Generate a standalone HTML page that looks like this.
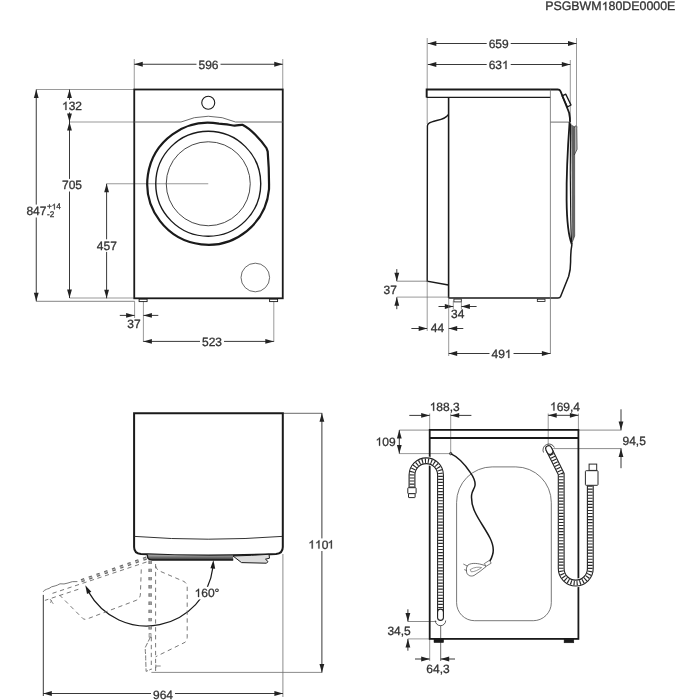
<!DOCTYPE html>
<html><head><meta charset="utf-8"><style>
html,body{margin:0;padding:0;background:#fff;width:700px;height:700px;overflow:hidden}
svg{display:block;font-family:"Liberation Sans",sans-serif;will-change:transform;text-rendering:geometricPrecision}
</style></head><body>
<svg width="700" height="700" viewBox="0 0 700 700">
<text x="545.20" y="10.3" font-size="12.4" fill="#333333" stroke="#333333" stroke-width="0.3" xml:space="preserve">PSGBWM 80DE0000E</text>
<path d="M763,0 L583,0 L583,1100 Q518,1040 412,980 Q306,920 222,890 L222,1060 Q373,1130 486,1230 Q599,1330 646,1409 L763,1409 Z" transform="translate(601.691,10.3) scale(0.006055,-0.006055)" fill="#333333" stroke="#333333" stroke-width="49.5"/>
<line x1="134.25" y1="59" x2="134.25" y2="89.5" stroke="#6e6e6e" stroke-width="0.7" />
<line x1="282.75" y1="59" x2="282.75" y2="89.5" stroke="#6e6e6e" stroke-width="0.7" />
<line x1="36.25" y1="89.5" x2="134.25" y2="89.5" stroke="#6e6e6e" stroke-width="0.7" />
<line x1="36.25" y1="301.3" x2="134.65" y2="301.3" stroke="#666" stroke-width="0.8" />
<line x1="69.5" y1="122" x2="134.25" y2="122" stroke="#6e6e6e" stroke-width="0.7" />
<line x1="69.5" y1="298" x2="134.25" y2="298" stroke="#6e6e6e" stroke-width="0.7" />
<line x1="106.6" y1="183.75" x2="208.25" y2="183.75" stroke="#6e6e6e" stroke-width="0.7" />
<line x1="134.25" y1="64.25" x2="282.75" y2="64.25" stroke="#222222" stroke-width="0.9" />
<path d="M134.25,64.25 L142.75,61.85 L142.75,66.65 Z" fill="#222222" stroke="none"/>
<path d="M282.75,64.25 L274.25,66.65 L274.25,61.85 Z" fill="#222222" stroke="none"/>
<rect x="196.49" y="58.30" width="24.02" height="12.60" fill="#fff"/>
<text x="198.49" y="68.5" font-size="12" fill="#333333" stroke="#333333" stroke-width="0.3">596</text>
<line x1="36.25" y1="89.5" x2="36.25" y2="301.3" stroke="#222222" stroke-width="0.9" />
<path d="M36.25,89.50 L38.65,98.00 L33.85,98.00 Z" fill="#222222" stroke="none"/>
<path d="M36.25,301.30 L33.85,292.80 L38.65,292.80 Z" fill="#222222" stroke="none"/>
<rect x="24" y="204.6" width="38" height="12.9" fill="#fff"/>
<text x="26.40" y="215.1" font-size="12" fill="#333333" stroke="#333333" stroke-width="0.3">847</text>
<text x="46.90" y="209.4" font-size="8.2" fill="#333333" stroke="#333333" stroke-width="0.3" xml:space="preserve">+ 4</text>
<path d="M763,0 L583,0 L583,1100 Q518,1040 412,980 Q306,920 222,890 L222,1060 Q373,1130 486,1230 Q599,1330 646,1409 L763,1409 Z" transform="translate(51.689,209.4) scale(0.004004,-0.004004)" fill="#333333" stroke="#333333" stroke-width="74.9"/>
<text x="47.00" y="217.0" font-size="8.2" fill="#333333" stroke="#333333" stroke-width="0.3">-2</text>
<line x1="69.5" y1="89.5" x2="69.5" y2="122" stroke="#222222" stroke-width="0.9" />
<path d="M69.50,89.50 L71.90,98.00 L67.10,98.00 Z" fill="#222222" stroke="none"/>
<path d="M69.50,122.00 L67.10,113.50 L71.90,113.50 Z" fill="#222222" stroke="none"/>
<rect x="59.99" y="99.80" width="24.02" height="12.60" fill="#fff"/>
<text x="61.99" y="110.0" font-size="12" fill="#333333" stroke="#333333" stroke-width="0.3" xml:space="preserve"> 32</text>
<path d="M763,0 L583,0 L583,1100 Q518,1040 412,980 Q306,920 222,890 L222,1060 Q373,1130 486,1230 Q599,1330 646,1409 L763,1409 Z" transform="translate(61.989,110.0) scale(0.005859,-0.005859)" fill="#333333" stroke="#333333" stroke-width="51.2"/>
<line x1="69.5" y1="122" x2="69.5" y2="298" stroke="#222222" stroke-width="0.9" />
<path d="M69.50,122.00 L71.90,130.50 L67.10,130.50 Z" fill="#222222" stroke="none"/>
<path d="M69.50,298.00 L67.10,289.50 L71.90,289.50 Z" fill="#222222" stroke="none"/>
<rect x="59.99" y="178.90" width="24.02" height="12.60" fill="#fff"/>
<text x="61.99" y="189.1" font-size="12" fill="#333333" stroke="#333333" stroke-width="0.3">705</text>
<line x1="106.6" y1="183.75" x2="106.6" y2="298.3" stroke="#222222" stroke-width="0.9" />
<path d="M106.60,183.75 L109.00,192.25 L104.20,192.25 Z" fill="#222222" stroke="none"/>
<path d="M106.60,298.30 L104.20,289.80 L109.00,289.80 Z" fill="#222222" stroke="none"/>
<rect x="94.79" y="239.30" width="24.02" height="12.60" fill="#fff"/>
<text x="96.79" y="249.5" font-size="12" fill="#333333" stroke="#333333" stroke-width="0.3">457</text>
<line x1="134.6" y1="301.3" x2="134.6" y2="318" stroke="#6e6e6e" stroke-width="0.7" />
<line x1="143.4" y1="301" x2="143.4" y2="342" stroke="#6e6e6e" stroke-width="0.7" />
<line x1="119.8" y1="315.4" x2="134.6" y2="315.4" stroke="#222222" stroke-width="0.9" />
<path d="M134.60,315.40 L126.10,317.80 L126.10,313.00 Z" fill="#222222" stroke="none"/>
<line x1="158.3" y1="315.4" x2="143.4" y2="315.4" stroke="#222222" stroke-width="0.9" />
<path d="M143.40,315.40 L151.90,313.00 L151.90,317.80 Z" fill="#222222" stroke="none"/>
<text x="127.33" y="328.2" font-size="12" fill="#333333" stroke="#333333" stroke-width="0.3">37</text>
<line x1="273.8" y1="301" x2="273.8" y2="342" stroke="#6e6e6e" stroke-width="0.7" />
<line x1="143.4" y1="341.4" x2="273.8" y2="341.4" stroke="#222222" stroke-width="0.9" />
<path d="M143.40,341.40 L151.90,339.00 L151.90,343.80 Z" fill="#222222" stroke="none"/>
<path d="M273.80,341.40 L265.30,343.80 L265.30,339.00 Z" fill="#222222" stroke="none"/>
<rect x="199.99" y="335.40" width="24.02" height="12.60" fill="#fff"/>
<text x="201.99" y="345.6" font-size="12" fill="#333333" stroke="#333333" stroke-width="0.3">523</text>
<rect x="134.25" y="89.5" width="148.5" height="208.8" rx="0" stroke="#1a1a1a" stroke-width="1.8" fill="none"/>
<path d="M134.25,122 L180.99,122 A67.5,67.5 0 0 1 235.51,122 L282.75,122" stroke="#5a5a5a" stroke-width="0.9" fill="none" />
<circle cx="208.25" cy="102.75" r="6.5" stroke="#1a1a1a" stroke-width="1.1" fill="none"/>
<path d="M269.02,189.07 A61,61 0 1 1 218.84,123.68 C225,123.9 231,125.2 234.7,125.6 C238,125.6 240,124.6 242.4,124.8 C251,129 261,140 266.4,148 L267.7,151.6 C268.4,160 269.2,175 269.02,189.07 Z" stroke="#1a1a1a" stroke-width="2.2" fill="none" />
<circle cx="208.25" cy="183.75" r="52.5" stroke="#1a1a1a" stroke-width="1.4" fill="none"/>
<circle cx="208.25" cy="183.75" r="42" stroke="#333" stroke-width="0.9" fill="none"/>
<circle cx="255.3" cy="277.5" r="14.3" stroke="#444" stroke-width="0.8" fill="none"/>
<rect x="139.1" y="299.2" width="8" height="2.4" rx="0" stroke="#1a1a1a" stroke-width="0.9" fill="#fff"/>
<rect x="269.6" y="299.2" width="8" height="2.4" rx="0" stroke="#1a1a1a" stroke-width="0.9" fill="#fff"/>
<line x1="427.2" y1="38" x2="427.2" y2="124" stroke="#6e6e6e" stroke-width="0.7" />
<line x1="570.3" y1="60" x2="570.3" y2="122" stroke="#6e6e6e" stroke-width="0.7" />
<line x1="576.5" y1="38" x2="576.5" y2="150" stroke="#6e6e6e" stroke-width="0.7" />
<line x1="427.8" y1="43.5" x2="576.5" y2="43.5" stroke="#222222" stroke-width="0.9" />
<path d="M427.80,43.50 L436.30,41.10 L436.30,45.90 Z" fill="#222222" stroke="none"/>
<path d="M576.50,43.50 L568.00,45.90 L568.00,41.10 Z" fill="#222222" stroke="none"/>
<rect x="486.69" y="37.60" width="24.02" height="12.60" fill="#fff"/>
<text x="488.69" y="47.8" font-size="12" fill="#333333" stroke="#333333" stroke-width="0.3">659</text>
<line x1="427.8" y1="64.5" x2="570.3" y2="64.5" stroke="#222222" stroke-width="0.9" />
<path d="M427.80,64.50 L436.30,62.10 L436.30,66.90 Z" fill="#222222" stroke="none"/>
<path d="M570.30,64.50 L561.80,66.90 L561.80,62.10 Z" fill="#222222" stroke="none"/>
<rect x="486.69" y="58.80" width="24.02" height="12.60" fill="#fff"/>
<text x="488.69" y="69.0" font-size="12" fill="#333333" stroke="#333333" stroke-width="0.3" xml:space="preserve">63 </text>
<path d="M763,0 L583,0 L583,1100 Q518,1040 412,980 Q306,920 222,890 L222,1060 Q373,1130 486,1230 Q599,1330 646,1409 L763,1409 Z" transform="translate(502.037,69.0) scale(0.005859,-0.005859)" fill="#333333" stroke="#333333" stroke-width="51.2"/>
<path d="M426.6,97.4 L426.6,89.5 L557.7,89.5 Q559.8,89.5 560.6,91.4 L567.4,108.3 Q569.8,113 569.9,118 L570,122.3" stroke="#1a1a1a" stroke-width="1.8" fill="none" />
<line x1="426.6" y1="97.4" x2="550.4" y2="97.4" stroke="#1a1a1a" stroke-width="1.2" />
<path d="M562.1,95.8 L565.8,94.2 L571,105 L567.4,107 Z" stroke="#1a1a1a" stroke-width="1.4" fill="none" stroke-linejoin="round"/>
<path d="M448.3,114.5 C446,119 440,119.5 432,121.8 C428.5,122.8 427.4,124 427.4,126 L427.2,281.2 L448.4,285" stroke="#1a1a1a" stroke-width="1.4" fill="none" />
<line x1="448.6" y1="97.4" x2="448.6" y2="298.1" stroke="#1a1a1a" stroke-width="1.6" />
<path d="M448.6,298.1 L558,298.1 Q560,298.1 560.6,296.5 L568.7,276.3 C570,272 570.6,268 570.6,262 C570.6,255 570.8,250 571.9,244.6" stroke="#1a1a1a" stroke-width="1.5" fill="none" />
<line x1="550.4" y1="89.5" x2="550.4" y2="354" stroke="#6e6e6e" stroke-width="0.8" />
<line x1="550.4" y1="122.1" x2="569.6" y2="122.1" stroke="#6e6e6e" stroke-width="1.0" />
<path d="M571.2,124.5 L574.6,126.5 L574.7,236 L572.2,242.5 Z" stroke="none" stroke-width="0" fill="#666" />
<path d="M570.6,123.5 C570.2,150 570.4,200 570.8,220 C571,232 571.4,240 571.9,244.6" stroke="#1a1a1a" stroke-width="1.2" fill="none" />
<path d="M569.6,122.1 C568.3,140 566.3,170 566.6,200 C566.8,222 568.5,236 571.9,244.6" stroke="#1a1a1a" stroke-width="1.8" fill="none" />
<path d="M574.6,126.5 L574.7,236 L572.2,242.5" stroke="#333" stroke-width="0.6" fill="none" />
<path d="M574.3,155 L574.3,128.5 Q574.3,125.6 576.2,125.8 Q577.4,126.4 576.8,128.5 L577.1,149.3 Z" stroke="#333" stroke-width="0.7" fill="#b0b0b0" />
<rect x="453.9" y="299.1" width="7.4" height="2.8" rx="0" stroke="#1a1a1a" stroke-width="0.8" fill="#fff"/>
<rect x="537.3" y="299.2" width="7.7" height="2.3" rx="0" stroke="#1a1a1a" stroke-width="0.8" fill="#fff"/>
<line x1="396.8" y1="281.2" x2="427.2" y2="281.2" stroke="#6e6e6e" stroke-width="0.8" />
<line x1="396.8" y1="297.1" x2="448.6" y2="297.1" stroke="#6e6e6e" stroke-width="0.7" />
<line x1="396.8" y1="269.1" x2="396.8" y2="281.2" stroke="#222222" stroke-width="0.9" />
<path d="M396.80,281.20 L394.40,272.70 L399.20,272.70 Z" fill="#222222" stroke="none"/>
<line x1="396.8" y1="309.2" x2="396.8" y2="297.3" stroke="#222222" stroke-width="0.9" />
<path d="M396.80,297.30 L399.20,305.80 L394.40,305.80 Z" fill="#222222" stroke="none"/>
<text x="383.53" y="294.4" font-size="12" fill="#333333" stroke="#333333" stroke-width="0.3">37</text>
<line x1="453.3" y1="301" x2="453.3" y2="309" stroke="#6e6e6e" stroke-width="0.7" />
<line x1="461.4" y1="301" x2="461.4" y2="309" stroke="#6e6e6e" stroke-width="0.7" />
<line x1="438.5" y1="306.5" x2="453.3" y2="306.5" stroke="#222222" stroke-width="0.9" />
<path d="M453.30,306.50 L444.80,308.90 L444.80,304.10 Z" fill="#222222" stroke="none"/>
<line x1="476.6" y1="306.5" x2="461.4" y2="306.5" stroke="#222222" stroke-width="0.9" />
<path d="M461.40,306.50 L469.90,304.10 L469.90,308.90 Z" fill="#222222" stroke="none"/>
<text x="451.03" y="317.5" font-size="12" fill="#333333" stroke="#333333" stroke-width="0.3">34</text>
<line x1="427.2" y1="281" x2="427.2" y2="331" stroke="#6e6e6e" stroke-width="0.7" />
<line x1="411.4" y1="328.5" x2="427.2" y2="328.5" stroke="#222222" stroke-width="0.9" />
<path d="M427.20,328.50 L418.70,330.90 L418.70,326.10 Z" fill="#222222" stroke="none"/>
<line x1="463.3" y1="328.5" x2="448.7" y2="328.5" stroke="#222222" stroke-width="0.9" />
<path d="M448.70,328.50 L457.20,326.10 L457.20,330.90 Z" fill="#222222" stroke="none"/>
<text x="430.73" y="331.6" font-size="12" fill="#333333" stroke="#333333" stroke-width="0.3">44</text>
<line x1="448.7" y1="297.6" x2="448.7" y2="356" stroke="#6e6e6e" stroke-width="0.7" />
<line x1="448.7" y1="353.5" x2="550.4" y2="353.5" stroke="#222222" stroke-width="0.9" />
<path d="M448.70,353.50 L457.20,351.10 L457.20,355.90 Z" fill="#222222" stroke="none"/>
<path d="M550.40,353.50 L541.90,355.90 L541.90,351.10 Z" fill="#222222" stroke="none"/>
<rect x="489.49" y="347.80" width="24.02" height="12.60" fill="#fff"/>
<text x="491.49" y="358.0" font-size="12" fill="#333333" stroke="#333333" stroke-width="0.3" xml:space="preserve">49 </text>
<path d="M763,0 L583,0 L583,1100 Q518,1040 412,980 Q306,920 222,890 L222,1060 Q373,1130 486,1230 Q599,1330 646,1409 L763,1409 Z" transform="translate(504.837,358.0) scale(0.005859,-0.005859)" fill="#333333" stroke="#333333" stroke-width="51.2"/>
<line x1="282.8" y1="413.3" x2="322.3" y2="413.3" stroke="#444" stroke-width="0.8" />
<line x1="151.4" y1="672.4" x2="322.3" y2="672.4" stroke="#6e6e6e" stroke-width="0.8" />
<line x1="321.9" y1="413.3" x2="321.9" y2="672.4" stroke="#222222" stroke-width="0.9" />
<path d="M321.90,413.30 L324.30,421.80 L319.50,421.80 Z" fill="#222222" stroke="none"/>
<path d="M321.90,672.40 L319.50,663.90 L324.30,663.90 Z" fill="#222222" stroke="none"/>
<rect x="306.30" y="538.40" width="29.80" height="12.60" fill="#fff"/>
<text x="308.30" y="548.6" font-size="12" fill="#333333" stroke="#333333" stroke-width="0.3" xml:space="preserve">  0 </text>
<path d="M763,0 L583,0 L583,1100 Q518,1040 412,980 Q306,920 222,890 L222,1060 Q373,1130 486,1230 Q599,1330 646,1409 L763,1409 Z" transform="translate(308.298,548.6) scale(0.005859,-0.005859)" fill="#333333" stroke="#333333" stroke-width="51.2"/>
<path d="M763,0 L583,0 L583,1100 Q518,1040 412,980 Q306,920 222,890 L222,1060 Q373,1130 486,1230 Q599,1330 646,1409 L763,1409 Z" transform="translate(314.971,548.6) scale(0.005859,-0.005859)" fill="#333333" stroke="#333333" stroke-width="51.2"/>
<path d="M763,0 L583,0 L583,1100 Q518,1040 412,980 Q306,920 222,890 L222,1060 Q373,1130 486,1230 Q599,1330 646,1409 L763,1409 Z" transform="translate(327.429,548.6) scale(0.005859,-0.005859)" fill="#333333" stroke="#333333" stroke-width="51.2"/>
<line x1="43.3" y1="594.9" x2="43.3" y2="696" stroke="#222222" stroke-width="0.9" />
<line x1="282.9" y1="554" x2="282.9" y2="697" stroke="#6e6e6e" stroke-width="0.8" />
<line x1="43.3" y1="693.5" x2="282.9" y2="693.5" stroke="#222222" stroke-width="0.9" />
<path d="M43.30,693.50 L51.80,691.10 L51.80,695.90 Z" fill="#222222" stroke="none"/>
<path d="M282.90,693.50 L274.40,695.90 L274.40,691.10 Z" fill="#222222" stroke="none"/>
<rect x="150.99" y="688.80" width="24.02" height="12.60" fill="#fff"/>
<text x="152.99" y="699.0" font-size="12" fill="#333333" stroke="#333333" stroke-width="0.3">964</text>
<path d="M134.1,413.2 L282.8,413.2 L282.8,547 Q282.8,553.5 276,554 Q208,557 141,554 Q134.1,553.5 134.1,547 Z" stroke="#1a1a1a" stroke-width="2.0" fill="none" />
<path d="M134.6,536.4 Q208,542 282,536.4" stroke="#333" stroke-width="1.0" fill="none" />
<linearGradient id="dg" x1="0" y1="0" x2="0" y2="1"><stop offset="0" stop-color="#b0b0b0"/><stop offset="1" stop-color="#303030"/></linearGradient>
<path d="M147.3,554.6 L147.6,557.4 Q148.2,559.8 152,560 L233.2,560 L233.2,555.6 Q190,556.2 147.3,554.6 Z" stroke="none" stroke-width="0" fill="url(#dg)" />
<path d="M147.3,554.6 L147.6,557.4 Q148.2,559.8 152,560 L233.2,560" stroke="#1a1a1a" stroke-width="1.4" fill="none" />
<path d="M233,556 L241.5,562.6 L266.5,563.2 L268,561.6 L265.5,559.2 L269.5,558.2 L269,554.3 Q252,555.5 233,556 Z" stroke="#1a1a1a" stroke-width="1.0" fill="#dcdcdc" />
<path d="M212.90,567.43 A66.7,66.7 0 0 1 88.65,592.14" stroke="#1a1a1a" stroke-width="1.2" fill="none" />
<path d="M213.40,560.00 L215.20,568.65 L210.41,568.31 Z" fill="#1a1a1a" stroke="none"/>
<path d="M85.30,585.36 L91.30,591.85 L87.02,594.02 Z" fill="#1a1a1a" stroke="none"/>
<rect x="192.59" y="586.80" width="28.82" height="12.60" fill="#fff"/>
<text x="194.59" y="597.0" font-size="12" fill="#333333" stroke="#333333" stroke-width="0.3" xml:space="preserve"> 60°</text>
<path d="M763,0 L583,0 L583,1100 Q518,1040 412,980 Q306,920 222,890 L222,1060 Q373,1130 486,1230 Q599,1330 646,1409 L763,1409 Z" transform="translate(194.590,597.0) scale(0.005859,-0.005859)" fill="#333333" stroke="#333333" stroke-width="51.2"/>
<line x1="150.1" y1="560.5" x2="150.1" y2="630" stroke="#6a6a6a" stroke-width="3.3" stroke-dasharray="3.4,4.8"/>
<line x1="150.1" y1="560.5" x2="150.1" y2="630" stroke="#c8c8c8" stroke-width="0.9" stroke-dasharray="3.4,4.8"/>
<rect x="149.1" y="633.7" width="1.9" height="3.4" rx="0" stroke="#777" stroke-width="0.8" fill="none"/>
<path d="M150.4,637.1 L145.3,647.4 C145,652 146,655 145.7,658.6 L146.1,671.4 L150.9,669.3" stroke="#6a6a6a" stroke-width="0.9" fill="none" stroke-dasharray="5,1.5"/>
<line x1="151.3" y1="637" x2="151.3" y2="669.7" stroke="#6a6a6a" stroke-width="0.9" stroke-dasharray="4.3,3.6"/>
<line x1="155.6" y1="564" x2="155.6" y2="671.4" stroke="#6a6a6a" stroke-width="0.9" stroke-dasharray="4.3,3.6"/>
<path d="M155.6,566 Q156.5,569.5 159.5,571 L184,581.5 Q187.2,583.5 187.2,587 L187.2,637 Q187.2,640.5 185,642.3 L155.6,656.8" stroke="#6a6a6a" stroke-width="0.9" fill="none" stroke-dasharray="4.3,3.6"/>
<path d="M155.8,664.6 L155.8,668 M155.8,666 L160.7,666" stroke="#6a6a6a" stroke-width="0.8" fill="none" />
<path d="M146.4,558.1 L80,581.2" stroke="#6a6a6a" stroke-width="3.3" fill="none" stroke-dasharray="3.4,4.8"/>
<path d="M146.4,558.1 L80,581.2" stroke="#c8c8c8" stroke-width="0.9" fill="none" stroke-dasharray="3.4,4.8"/>
<path d="M77.4,581.6 Q72,581 68,583 Q64,584.5 60,583.8 Q57,585.5 55.1,585.9 Q51,586.5 49,588.5 Q47,589 46.6,589.3 Q44,590 43.1,591.9" stroke="#6a6a6a" stroke-width="0.9" fill="none" />
<path d="M146.5,562 L49,594.5" stroke="#6a6a6a" stroke-width="0.9" fill="none" stroke-dasharray="4.3,3.6"/>
<path d="M78.3,589.3 L44.9,600.4" stroke="#6a6a6a" stroke-width="0.9" fill="none" stroke-dasharray="4.3,3.6"/>
<path d="M59.4,594.9 L82.5,618.2 Q84.5,620 87,619 L136,600.4 Q140.4,598.5 140.4,594 L141.4,565.7" stroke="#6a6a6a" stroke-width="0.9" fill="none" stroke-dasharray="4.3,3.6"/>
<path d="M50,599 L53.4,604 M51.5,600 L50.5,603" stroke="#6a6a6a" stroke-width="0.7" fill="none" />
<line x1="429.7" y1="413.5" x2="429.7" y2="429.9" stroke="#6e6e6e" stroke-width="0.7" />
<line x1="450.7" y1="413.5" x2="450.7" y2="453.6" stroke="#6e6e6e" stroke-width="0.7" />
<line x1="409.3" y1="415.4" x2="429.7" y2="415.4" stroke="#222222" stroke-width="0.9" />
<path d="M429.70,415.40 L421.20,417.80 L421.20,413.00 Z" fill="#222222" stroke="none"/>
<line x1="471.4" y1="415.4" x2="450.7" y2="415.4" stroke="#222222" stroke-width="0.9" />
<path d="M450.70,415.40 L459.20,413.00 L459.20,417.80 Z" fill="#222222" stroke="none"/>
<text x="429.69" y="410.8" font-size="12" fill="#333333" stroke="#333333" stroke-width="0.3" xml:space="preserve"> 88,3</text>
<path d="M763,0 L583,0 L583,1100 Q518,1040 412,980 Q306,920 222,890 L222,1060 Q373,1130 486,1230 Q599,1330 646,1409 L763,1409 Z" transform="translate(429.685,410.8) scale(0.005859,-0.005859)" fill="#333333" stroke="#333333" stroke-width="51.2"/>
<line x1="399.3" y1="430.1" x2="429.7" y2="430.1" stroke="#6e6e6e" stroke-width="0.8" />
<line x1="399.3" y1="453.6" x2="450.7" y2="453.6" stroke="#6e6e6e" stroke-width="0.7" />
<line x1="399.3" y1="430.1" x2="399.3" y2="453.6" stroke="#222222" stroke-width="0.9" />
<path d="M399.30,430.10 L401.70,438.60 L396.90,438.60 Z" fill="#222222" stroke="none"/>
<path d="M399.30,453.60 L396.90,445.10 L401.70,445.10 Z" fill="#222222" stroke="none"/>
<text x="375.59" y="445.7" font-size="12" fill="#333333" stroke="#333333" stroke-width="0.3" xml:space="preserve"> 09</text>
<path d="M763,0 L583,0 L583,1100 Q518,1040 412,980 Q306,920 222,890 L222,1060 Q373,1130 486,1230 Q599,1330 646,1409 L763,1409 Z" transform="translate(375.589,445.7) scale(0.005859,-0.005859)" fill="#333333" stroke="#333333" stroke-width="51.2"/>
<line x1="548.2" y1="413.5" x2="548.2" y2="446" stroke="#6e6e6e" stroke-width="0.7" />
<line x1="578.4" y1="413.5" x2="578.4" y2="429.9" stroke="#6e6e6e" stroke-width="0.7" />
<line x1="548.2" y1="415.3" x2="578.4" y2="415.3" stroke="#222222" stroke-width="0.9" />
<path d="M548.20,415.30 L556.70,412.90 L556.70,417.70 Z" fill="#222222" stroke="none"/>
<path d="M578.40,415.30 L569.90,417.70 L569.90,412.90 Z" fill="#222222" stroke="none"/>
<text x="549.99" y="410.6" font-size="12" fill="#333333" stroke="#333333" stroke-width="0.3" xml:space="preserve"> 69,4</text>
<path d="M763,0 L583,0 L583,1100 Q518,1040 412,980 Q306,920 222,890 L222,1060 Q373,1130 486,1230 Q599,1330 646,1409 L763,1409 Z" transform="translate(549.985,410.6) scale(0.005859,-0.005859)" fill="#333333" stroke="#333333" stroke-width="51.2"/>
<line x1="578.4" y1="430.1" x2="621.5" y2="430.1" stroke="#6e6e6e" stroke-width="0.8" />
<line x1="551.4" y1="448.6" x2="621.5" y2="448.6" stroke="#6e6e6e" stroke-width="0.8" />
<line x1="621" y1="409.3" x2="621" y2="430.1" stroke="#222222" stroke-width="0.9" />
<path d="M621.00,430.10 L618.60,421.60 L623.40,421.60 Z" fill="#222222" stroke="none"/>
<line x1="621" y1="468.2" x2="621" y2="448.6" stroke="#222222" stroke-width="0.9" />
<path d="M621.00,448.60 L623.40,457.10 L618.60,457.10 Z" fill="#222222" stroke="none"/>
<text x="622.52" y="444.5" font-size="12" fill="#333333" stroke="#333333" stroke-width="0.3">94,5</text>
<line x1="407.9" y1="621.5" x2="436.5" y2="621.5" stroke="#6e6e6e" stroke-width="0.8" />
<line x1="407.9" y1="638.9" x2="429.7" y2="638.9" stroke="#6e6e6e" stroke-width="0.7" />
<line x1="407.9" y1="609.3" x2="407.9" y2="621.5" stroke="#222222" stroke-width="0.9" />
<path d="M407.90,621.50 L405.50,613.00 L410.30,613.00 Z" fill="#222222" stroke="none"/>
<line x1="407.9" y1="650.7" x2="407.9" y2="638.9" stroke="#222222" stroke-width="0.9" />
<path d="M407.90,638.90 L410.30,647.40 L405.50,647.40 Z" fill="#222222" stroke="none"/>
<text x="387.42" y="634.6" font-size="12" fill="#333333" stroke="#333333" stroke-width="0.3">34,5</text>
<line x1="429.7" y1="638.9" x2="429.7" y2="661" stroke="#6e6e6e" stroke-width="0.7" />
<line x1="440.7" y1="625.5" x2="440.7" y2="661" stroke="#444" stroke-width="0.8" />
<line x1="415" y1="659" x2="429.7" y2="659" stroke="#222222" stroke-width="0.9" />
<path d="M429.70,659.00 L421.20,661.40 L421.20,656.60 Z" fill="#222222" stroke="none"/>
<line x1="455" y1="659" x2="440.7" y2="659" stroke="#222222" stroke-width="0.9" />
<path d="M440.70,659.00 L449.20,656.60 L449.20,661.40 Z" fill="#222222" stroke="none"/>
<text x="426.32" y="672.9" font-size="12" fill="#333333" stroke="#333333" stroke-width="0.3">64,3</text>
<path d="M456.6,502.4 A35.6,35.5 0 0 1 492.2,466.9 L515.8,466.9 A35.5,35.5 0 0 1 551.3,502.4 L551.3,602.7 A18,18 0 0 1 533.3,620.7 L474.6,620.7 A18,18 0 0 1 456.6,602.7 Z" stroke="#555" stroke-width="0.8" fill="none" />
<rect x="429.7" y="429.9" width="148.7" height="209.0" rx="0" stroke="#1a1a1a" stroke-width="1.8" fill="none"/>
<line x1="429.7" y1="438.0" x2="578.4" y2="438.0" stroke="#1a1a1a" stroke-width="1.8" />
<rect x="434" y="638.9" width="9.6" height="3.7" rx="0" stroke="#1a1a1a" stroke-width="0.5" fill="#1a1a1a"/>
<rect x="564.1" y="639.2" width="9.7" height="3.6" rx="0" stroke="#1a1a1a" stroke-width="0.5" fill="#1a1a1a"/>
<path d="M450.7,453.6 C456,456 464,463 470.4,472.6 C473.5,477 475.5,482 475,485.5 C474.6,488.5 472,491 471.6,495 C471.2,500 472.5,507 475,512 C478,519 486,530 490,538 C493,544 493.8,551 492.5,555 C491.8,558 490.5,560 489.5,561.5" stroke="#1a1a1a" stroke-width="1.5" fill="none" />
<circle cx="450.7" cy="453.6" r="1.2" stroke="#1a1a1a" stroke-width="0.8" fill="none"/>
<path d="M484.3,563.6 L489.4,560.4 L491.2,563.2 L486.1,566.3 Z" stroke="#444" stroke-width="0.7" fill="#fff" />
<path d="M468,565 C472,562.5 478,563.2 484.3,565.3 L486,566.6 C482,570 478,573 474,575.5 C470.5,577 467.2,575.2 466.6,572.2 C466,569.2 466.5,566.5 468,565 Z" stroke="#444" stroke-width="0.75" fill="#fff" />
<path d="M470.2,569.6 C474,567 479,566.8 481.6,567.6 C478,570.2 474.5,571.8 471.2,571.8 Z" stroke="#555" stroke-width="0.6" fill="none" />
<path d="M463.3,564 L467.6,566.2 M464.2,569.6 L466.8,570.6" stroke="#444" stroke-width="0.7" fill="none" />
<path d="M412,487.7 L412,475 A14.25,14.25 0 0 1 440.5,475 L440.5,616.5" stroke="#fff" stroke-width="8.5" fill="none" stroke-linecap="butt"/>
<path d="M412,487.7 L412,475 A14.25,14.25 0 0 1 440.5,475 L440.5,616.5" stroke="#222" stroke-width="6.9" fill="none" stroke-linecap="butt"/>
<path d="M412,487.7 L412,475 A14.25,14.25 0 0 1 440.5,475 L440.5,616.5" stroke="#fff" stroke-width="4.7" fill="none" stroke-linecap="butt"/>
<path d="M412,487.7 L412,475 A14.25,14.25 0 0 1 440.5,475 L440.5,616.5" stroke="#2a2a2a" stroke-width="4.7" fill="none" stroke-dasharray="1.15,1.9"/>
<path d="M440.5,612 L440.5,617.5" stroke="#222" stroke-width="6.9" stroke-linecap="round" fill="none"/>
<path d="M440.5,612 L440.5,617.5" stroke="#fff" stroke-width="4.7" stroke-linecap="round" fill="none"/>
<path d="M435.3,620.5 A5.2,5.2 0 0 0 445.7,620.5" stroke="#333" stroke-width="0.8" fill="none" />
<rect x="407.8" y="487.7" width="8.3" height="6.0" rx="0.6" stroke="#2a2a2a" stroke-width="1.0" fill="#fff"/>
<rect x="408.5" y="493.7" width="6.6" height="3.9" rx="0.4" stroke="#2a2a2a" stroke-width="1.0" fill="#fff"/>
<path d="M548.6,448.6 L561.2,474 L561.2,568.5 A14.55,14.55 0 0 0 590.3,568.5 L590.3,485.4" stroke="#fff" stroke-width="8.5" fill="none" stroke-linecap="butt"/>
<path d="M548.6,448.6 L561.2,474 L561.2,568.5 A14.55,14.55 0 0 0 590.3,568.5 L590.3,485.4" stroke="#222" stroke-width="6.9" fill="none" stroke-linecap="butt"/>
<path d="M548.6,448.6 L561.2,474 L561.2,568.5 A14.55,14.55 0 0 0 590.3,568.5 L590.3,485.4" stroke="#fff" stroke-width="4.7" fill="none" stroke-linecap="butt"/>
<path d="M548.6,448.6 L561.2,474 L561.2,568.5 A14.55,14.55 0 0 0 590.3,568.5 L590.3,485.4" stroke="#2a2a2a" stroke-width="4.7" fill="none" stroke-dasharray="1.15,1.9"/>
<path d="M548.6,448.6 L550,451.4" stroke="#222" stroke-width="6.9" stroke-linecap="round" fill="none"/>
<path d="M548.6,448.6 L550,451.4" stroke="#fff" stroke-width="4.7" stroke-linecap="round" fill="none"/>
<path d="M543.5,452.5 A5.9,5.9 0 0 1 554.4,447.5" stroke="#333" stroke-width="0.8" fill="none" />
<rect x="585.4" y="470.7" width="12.6" height="14.6" rx="0.8" stroke="#2a2a2a" stroke-width="1.0" fill="#fff"/>
<rect x="589.1" y="464.1" width="7.6" height="6.3" rx="0" stroke="#2a2a2a" stroke-width="1.0" fill="#fff"/>
</svg>
</body></html>
